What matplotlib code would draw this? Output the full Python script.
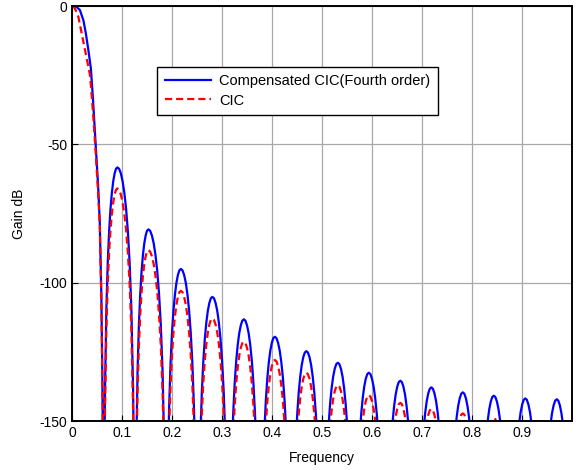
from __future__ import annotations

import matplotlib

matplotlib.use("Agg")
import matplotlib.pyplot as plt
import numpy as np

plt.rcParams["font.family"] = ["Liberation Sans", "DejaVu Sans"]

# main lobe (frequency, gain dB)
main_freq_comp = [0, 0.004, 0.009, 0.015, 0.022, 0.027, 0.032, 0.037, 0.041, 0.045,
                  0.048, 0.0515, 0.0548, 0.058, 0.060, 0.0615, 0.0625]
main_gain_comp = [0, -0.1, -0.4, -1.4, -5.1, -9.9, -15.9, -22.5, -33, -45,
                  -54, -65, -78, -105, -135, -165, -200]
main_freq_cic = [0, 0.004, 0.008, 0.012, 0.0187, 0.0253, 0.032, 0.0353, 0.039, 0.043,
                 0.047, 0.051, 0.0548, 0.058, 0.060, 0.0615, 0.0625]
main_gain_cic = [0, -0.6, -2.0, -3.9, -9.9, -15.9, -21.9, -25, -33, -43,
                 -54, -66, -79, -107, -136, -165, -200]

# side lobes: nulls, peak positions and peak levels
null_freq = [0.0625, 0.125, 0.1875, 0.25, 0.3125, 0.375, 0.4375, 0.5, 0.5625,
             0.625, 0.6875, 0.75, 0.8125, 0.875, 0.9375, 1.0]
peak_freq = [0.090, 0.152, 0.217, 0.280, 0.343, 0.405, 0.468, 0.531, 0.593,
             0.656, 0.718, 0.781, 0.843, 0.906, 0.969]
peak_comp = [-58.3, -80.7, -95.0, -105.1, -113.2, -119.5, -124.7, -128.9, -132.5,
             -135.4, -137.8, -139.6, -140.8, -141.8, -142.1]
peak_cic = [-65.9, -88.2, -102.9, -112.9, -121.3, -127.9, -132.5, -137.0, -140.6,
            -143.4, -145.6, -147.2, -148.8, -149.6, -151.0]

# lobe shape: fraction of half-width from the peak vs. drop below the peak (dB)
lobe_pos = [1.0, 0.96, 0.9, 0.8, 0.7, 0.6, 0.5, 0.4, 0.3, 0.2, 0.1, 0.0]
lobe_drop = [-200, -120, -80.6, -51, -34.3, -23.1, -15, -9.2, -5.0, -2.2, -0.5, 0]

x_ticks = [0, 0.1, 0.2, 0.3, 0.4, 0.5, 0.6, 0.7, 0.8, 0.9]
x_tick_labels = ["0", "0.1", "0.2", "0.3", "0.4", "0.5", "0.6", "0.7", "0.8", "0.9"]
y_ticks = [-150, -100, -50, 0]
y_tick_labels = ["-150", "-100", "-50", "0"]


def build_response(main_f, main_g, peaks) -> tuple[np.ndarray, np.ndarray]:
    pos = np.asarray(lobe_pos)
    drop = np.asarray(lobe_drop)
    freqs = [np.asarray(main_f, dtype=float)]
    gains = [np.asarray(main_g, dtype=float)]
    for i, (pf, pg) in enumerate(zip(peak_freq, peaks)):
        left = null_freq[i]
        right = null_freq[i + 1]
        freqs.append(pf - pos * (pf - left))
        gains.append(pg + drop)
        freqs.append(pf + pos[::-1][1:] * (right - pf))
        gains.append(pg + drop[::-1][1:])
    return np.concatenate(freqs), np.concatenate(gains)


def main() -> None:
    fig = plt.figure(figsize=(5.79, 4.70), dpi=100)
    ax = fig.add_axes([0.125, 0.104, 0.8625, 0.883])

    f_comp, g_comp = build_response(main_freq_comp, main_gain_comp, peak_comp)
    f_cic, g_cic = build_response(main_freq_cic, main_gain_cic, peak_cic)

    ax.plot(f_comp, g_comp, color="#0000ff", lw=1.6, label="Compensated CIC(Fourth order)")
    ax.plot(f_cic, g_cic, color="#ff0000", lw=1.6, dashes=(3.2, 1.8), label="CIC")

    ax.set_xlim(0, 0.999)
    ax.set_ylim(-150, 0)
    ax.set_xticks(x_ticks, x_tick_labels)
    ax.set_yticks(y_ticks, y_tick_labels)
    ax.tick_params(direction="in", labelsize=10, length=4, width=0.8, colors="black")
    ax.grid(True, color="#a8a8a8", lw=0.9)
    for spine in ax.spines.values():
        spine.set_linewidth(1.4)
        spine.set_color("black")

    ax.set_xlabel("Frequency", fontsize=10, labelpad=8)
    ax.set_ylabel("Gain dB", fontsize=10, labelpad=10)

    leg = ax.legend(loc="upper left", bbox_to_anchor=(0.170, 0.853), borderaxespad=0,
                    fancybox=False, framealpha=1, edgecolor="black", fontsize=10.5,
                    handlelength=3.2, borderpad=0.5, labelspacing=0.35, handletextpad=0.55)
    leg.get_frame().set_linewidth(1.0)

    fig.savefig("out.png", dpi=100)
    plt.close(fig)


if __name__ == "__main__":
    main()
